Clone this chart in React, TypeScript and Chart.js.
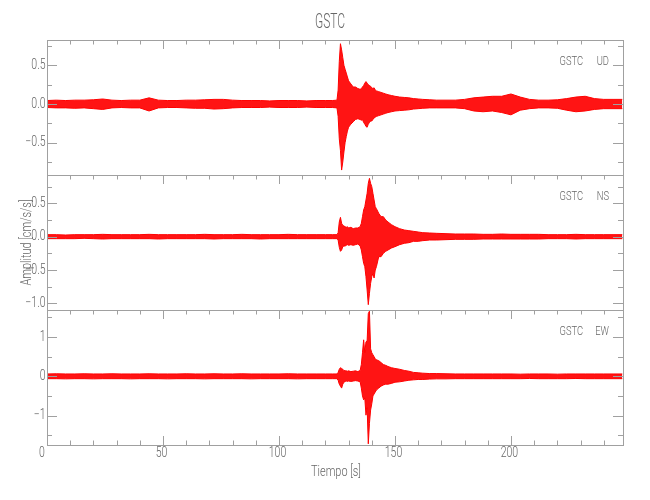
import React, { useEffect, useRef } from "react";
import { Chart, registerables } from "chart.js";

Chart.register(...registerables);

// ---- data (envelope of each trace) ----
const STATION = "GSTC";
const COMPONENTS = ["UD", "NS", "EW"];
const X_TITLE = "Tiempo [s]";
const Y_TITLE = "Amplitud [cm/s/s]";
const X_MAX = 248.3;

const TIME = [
  0, 4, 8, 12, 16, 20, 24, 28, 32, 36, 40, 44, 48, 52, 56, 60, 64, 68, 72, 76, 80, 84, 88, 92, 96, 100, 104, 108, 112, 116, 120,
  123, 125, 125.5, 126, 126.5, 127, 127.5, 128, 128.5, 129, 129.5, 130, 131, 132, 133, 134, 135, 135.5, 136, 136.5,
  137, 137.5, 138, 138.5, 139, 139.5, 140, 140.5, 141, 141.5, 142, 143, 144, 145, 146, 147, 148.5, 150, 152, 154,
  156, 158, 160, 162, 165, 168,
  172, 176, 180, 184, 188, 192, 196, 200, 204, 208, 212, 216, 220, 224, 228, 232, 236, 240, 244, 248,
];

const UD_UPPER = [
  0.045, 0.05, 0.045, 0.05, 0.05, 0.055, 0.065, 0.05, 0.045, 0.05, 0.05, 0.08, 0.05, 0.045, 0.045, 0.05, 0.05, 0.055, 0.06, 0.06, 0.05, 0.045, 0.045, 0.045, 0.04, 0.045, 0.045, 0.045, 0.04, 0.045, 0.045,
  0.045, 0.05, 0.18, 0.55, 0.78, 0.7, 0.6, 0.5, 0.45, 0.4, 0.35, 0.3, 0.26, 0.22, 0.22, 0.2, 0.19, 0.2, 0.22, 0.24,
  0.27, 0.29, 0.27, 0.25, 0.24, 0.23, 0.21, 0.2, 0.21, 0.18, 0.17, 0.16, 0.15, 0.14, 0.13, 0.12, 0.11, 0.1, 0.09, 0.085,
  0.08, 0.07, 0.065, 0.06, 0.055, 0.05,
  0.05, 0.05, 0.06, 0.08, 0.09, 0.1, 0.1, 0.13, 0.09, 0.06, 0.05, 0.05, 0.055, 0.07, 0.09, 0.1, 0.07, 0.06, 0.06, 0.06,
];
const UD_LOWER = [
  -0.045, -0.05, -0.05, -0.055, -0.05, -0.06, -0.07, -0.05, -0.045, -0.05, -0.05, -0.09, -0.05, -0.045, -0.045, -0.05, -0.055, -0.055, -0.065, -0.06, -0.05, -0.045, -0.045, -0.045, -0.04, -0.045, -0.045, -0.045, -0.04, -0.045, -0.045,
  -0.045, -0.05, -0.16, -0.45, -0.6, -0.854, -0.75, -0.62, -0.5, -0.42, -0.35, -0.3, -0.26, -0.23, -0.2, -0.19, -0.2, -0.21, -0.2, -0.24,
  -0.26, -0.29, -0.3, -0.26, -0.24, -0.22, -0.22, -0.2, -0.18, -0.17, -0.16, -0.15, -0.14, -0.13, -0.12, -0.11, -0.1, -0.09, -0.085, -0.08,
  -0.075, -0.065, -0.06, -0.055, -0.05, -0.05,
  -0.05, -0.05, -0.06, -0.09, -0.1, -0.09, -0.11, -0.14, -0.08, -0.06, -0.05, -0.05, -0.055, -0.08, -0.1, -0.09, -0.07, -0.06, -0.06, -0.06,
];

const NS_UPPER = [
  0.03, 0.03, 0.025, 0.03, 0.03, 0.03, 0.035, 0.03, 0.03, 0.03, 0.03, 0.035, 0.03, 0.03, 0.03, 0.03, 0.03, 0.035, 0.03, 0.03, 0.03, 0.035, 0.03, 0.03, 0.03, 0.03, 0.035, 0.03, 0.03, 0.03, 0.03,
  0.03, 0.03, 0.06, 0.22, 0.29, 0.2, 0.17, 0.16, 0.15, 0.14, 0.15, 0.13, 0.14, 0.12, 0.13, 0.13, 0.15, 0.2, 0.3, 0.4,
  0.45, 0.55, 0.65, 0.8, 0.875, 0.8, 0.75, 0.65, 0.55, 0.45, 0.42, 0.35, 0.3, 0.3, 0.25, 0.22, 0.18, 0.15, 0.12, 0.1,
  0.09, 0.08, 0.07, 0.06, 0.055, 0.05,
  0.045, 0.04, 0.04, 0.04, 0.035, 0.035, 0.04, 0.035, 0.035, 0.035, 0.035, 0.03, 0.03, 0.03, 0.035, 0.03, 0.03, 0.03, 0.03, 0.03,
];
const NS_LOWER = [
  -0.03, -0.03, -0.03, -0.03, -0.025, -0.03, -0.035, -0.03, -0.03, -0.03, -0.03, -0.03, -0.035, -0.03, -0.03, -0.03, -0.03, -0.03, -0.035, -0.03, -0.03, -0.03, -0.03, -0.035, -0.03, -0.03, -0.03, -0.03, -0.03, -0.03, -0.03,
  -0.03, -0.03, -0.05, -0.16, -0.22, -0.2, -0.15, -0.14, -0.14, -0.13, -0.12, -0.13, -0.12, -0.13, -0.12, -0.11, -0.14, -0.2, -0.3, -0.4,
  -0.45, -0.6, -0.8, -1.02, -0.85, -0.7, -0.6, -0.55, -0.62, -0.5, -0.45, -0.3, -0.3, -0.25, -0.22, -0.2, -0.17, -0.15, -0.12, -0.1,
  -0.09, -0.07, -0.07, -0.06, -0.05, -0.05,
  -0.045, -0.04, -0.04, -0.04, -0.035, -0.035, -0.035, -0.035, -0.035, -0.035, -0.035, -0.03, -0.03, -0.03, -0.035, -0.03, -0.03, -0.03, -0.03, -0.03,
];

const EW_UPPER = [
  0.06, 0.065, 0.06, 0.06, 0.065, 0.06, 0.06, 0.065, 0.06, 0.06, 0.06, 0.065, 0.06, 0.06, 0.06, 0.065, 0.06, 0.06, 0.065, 0.06, 0.06, 0.065, 0.06, 0.06, 0.06, 0.06, 0.065, 0.06, 0.06, 0.06, 0.06,
  0.06, 0.06, 0.1, 0.18, 0.22, 0.2, 0.18, 0.15, 0.14, 0.14, 0.13, 0.14, 0.12, 0.13, 0.14, 0.12, 0.15, 0.3, 0.6, 0.93,
  0.6, 0.88, 0.9, 1.6, 1.66, 0.7, 0.6, 0.55, 0.5, 0.45, 0.42, 0.4, 0.35, 0.3, 0.28, 0.25, 0.22, 0.2, 0.18, 0.15,
  0.13, 0.1, 0.09, 0.08, 0.07, 0.07,
  0.065, 0.06, 0.06, 0.06, 0.06, 0.06, 0.06, 0.06, 0.055, 0.06, 0.06, 0.06, 0.055, 0.06, 0.06, 0.06, 0.06, 0.06, 0.06, 0.06,
];
const EW_LOWER = [
  -0.06, -0.06, -0.065, -0.06, -0.06, -0.065, -0.06, -0.06, -0.06, -0.065, -0.06, -0.06, -0.06, -0.065, -0.06, -0.06, -0.06, -0.065, -0.06, -0.06, -0.06, -0.06, -0.065, -0.06, -0.06, -0.06, -0.06, -0.065, -0.06, -0.06, -0.06,
  -0.06, -0.06, -0.1, -0.2, -0.25, -0.3, -0.2, -0.15, -0.13, -0.12, -0.13, -0.12, -0.13, -0.12, -0.11, -0.12, -0.14, -0.3, -0.5, -0.6,
  -0.55, -0.99, -0.8, -1.72, -1.2, -0.86, -0.7, -0.5, -0.45, -0.4, -0.35, -0.3, -0.25, -0.22, -0.2, -0.2, -0.18, -0.15, -0.14, -0.12,
  -0.1, -0.09, -0.08, -0.08, -0.07, -0.065,
  -0.065, -0.06, -0.06, -0.06, -0.06, -0.06, -0.06, -0.06, -0.06, -0.055, -0.06, -0.06, -0.06, -0.06, -0.055, -0.06, -0.06, -0.06, -0.06, -0.06,
];

// ---- style / layout ----
const FONT_FAMILY = "Roboto, 'DejaVu Sans', sans-serif";
const TEXT_COLOR = "#666666";
const AXIS_COLOR = "#a0a0a0";
const TRACE_COLOR = "rgb(255,0,0)";
const FILL_COLOR = "rgba(255,0,0,0.92)";
const W = 650;
const H = 500;
const PLOT_LEFT = 47;
const PLOT_RIGHT = 623;

const PANELS = [
  { comp: COMPONENTS[0], upper: UD_UPPER, lower: UD_LOWER, yMin: -0.918, yMax: 0.828, minor: 0.25, major: 0.5, decimals: 1, top: 40, bottom: 175 },
  { comp: COMPONENTS[1], upper: NS_UPPER, lower: NS_LOWER, yMin: -1.1, yMax: 0.925, minor: 0.25, major: 0.5, decimals: 1, top: 175, bottom: 310 },
  { comp: COMPONENTS[2], upper: EW_UPPER, lower: EW_LOWER, yMin: -1.75, yMax: 1.69, minor: 0.5, major: 1, decimals: 0, top: 310, bottom: 445 },
];

const isMultiple = (v: number, step: number) => Math.abs(v / step - Math.round(v / step)) < 1e-6;
const fmt = (v: number, d: number) => {
  const s = Math.abs(v).toFixed(d);
  return v < -1e-9 ? "\u2212" + s : s;
};

function drawText(ctx: any, text: string, x: number, y: number, size: number, align: string, sx: number, rot = 0) {
  ctx.save();
  ctx.translate(x, y);
  if (rot) ctx.rotate(rot);
  ctx.scale(sx, 1);
  ctx.font = `300 ${size}px ${FONT_FAMILY}`;
  ctx.fillStyle = TEXT_COLOR;
  ctx.textAlign = align;
  ctx.textBaseline = "middle";
  ctx.fillText(text, 0, 0);
  ctx.restore();
}

const framePlugin = {
  id: "frame",
  afterDatasetsDraw(chart: any, _args: any, opts: any) {
    const { ctx, chartArea: a, scales } = chart;
    const xs = scales.x;
    const ys = scales.y;
    ctx.save();
    ctx.strokeStyle = AXIS_COLOR;
    ctx.lineWidth = 1;
    ctx.strokeRect(a.left + 0.5, a.top + 0.5, a.right - a.left, a.bottom - a.top);
    ctx.beginPath();
    for (const t of xs.ticks) {
      const px = Math.round(xs.getPixelForValue(t.value)) + 0.5;
      const len = isMultiple(t.value, 50) ? 9 : 4.5;
      ctx.moveTo(px, a.top);
      ctx.lineTo(px, a.top + len);
      if (opts.last) {
        ctx.moveTo(px, a.bottom);
        ctx.lineTo(px, a.bottom - len);
      }
    }
    for (const t of ys.ticks) {
      const py = Math.round(ys.getPixelForValue(t.value)) + 0.5;
      const len = isMultiple(t.value, opts.major) ? 10 : 5;
      ctx.moveTo(a.left, py);
      ctx.lineTo(a.left + len, py);
      ctx.moveTo(a.right, py);
      ctx.lineTo(a.right - len, py);
    }
    ctx.stroke();
    ctx.restore();
  },
  afterDraw(chart: any, _args: any, opts: any) {
    const { ctx, chartArea: a, scales } = chart;
    const xs = scales.x;
    const ys = scales.y;
    for (const t of ys.ticks) {
      if (!isMultiple(t.value, opts.major)) continue;
      drawText(ctx, fmt(t.value, opts.decimals), a.left - 1.5, ys.getPixelForValue(t.value), 14, "right", 0.75);
    }
    drawText(ctx, STATION, a.right - 40, a.top + 21.5, 13, "right", 0.72);
    drawText(ctx, opts.comp, a.right - 14, a.top + 21.5, 13, "right", 0.72);
    if (opts.first) {
      drawText(ctx, STATION, 330, 22.5, 20, "center", 0.6);
    }
    if (opts.mid) {
      drawText(ctx, Y_TITLE, 27, (a.top + a.bottom) / 2, 14, "center", 0.78, -Math.PI / 2);
    }
    if (opts.last) {
      for (const t of xs.ticks) {
        if (!isMultiple(t.value, 50)) continue;
        const off = t.value === 0 ? -5 : -1.5;
        drawText(ctx, String(Math.round(t.value)), xs.getPixelForValue(t.value) + off, a.bottom + 8.5, 14, "center", 0.75);
      }
      drawText(ctx, X_TITLE, (a.left + a.right) / 2 + 1, 472, 14, "center", 0.78);
    }
  },
};

function makeConfig(p: any, i: number): any {
  const last = i === PANELS.length - 1;
  const pts = (arr: number[]) => TIME.map((t, k) => ({ x: t, y: arr[k] }));
  return {
    type: "line",
    data: {
      datasets: [
        { data: pts(p.upper), borderColor: TRACE_COLOR, backgroundColor: FILL_COLOR, borderWidth: 1, pointRadius: 0, fill: "+1", tension: 0 },
        { data: pts(p.lower), borderColor: TRACE_COLOR, backgroundColor: FILL_COLOR, borderWidth: 1, pointRadius: 0, fill: false, tension: 0 },
      ],
    },
    options: {
      responsive: false,
      animation: false,
      events: [],
      layout: { padding: { left: 0, right: W - PLOT_RIGHT, top: p.top, bottom: last ? 0 : H - p.bottom } },
      plugins: {
        legend: { display: false },
        tooltip: { enabled: false },
        title: { display: false },
        frame: { comp: p.comp, major: p.major, decimals: p.decimals, first: i === 0, mid: i === 1, last },
      },
      scales: {
        x: {
          type: "linear",
          min: 0,
          max: X_MAX,
          grid: { display: false, drawTicks: false },
          border: { display: false },
          ticks: { display: false, stepSize: 10, includeBounds: false, autoSkip: false },
          afterFit: (s: any) => {
            s.height = last ? H - p.bottom : 0;
          },
        },
        y: {
          type: "linear",
          min: p.yMin,
          max: p.yMax,
          grid: { display: false, drawTicks: false },
          border: { display: false },
          ticks: { display: false, stepSize: p.minor, includeBounds: false, autoSkip: false },
          afterFit: (s: any) => {
            s.width = PLOT_LEFT;
          },
        },
      },
    },
    plugins: [framePlugin],
  };
}

export default function App() {
  const r0 = useRef<HTMLCanvasElement>(null);
  const r1 = useRef<HTMLCanvasElement>(null);
  const r2 = useRef<HTMLCanvasElement>(null);

  useEffect(() => {
    const refs = [r0, r1, r2];
    const charts = PANELS.map((p, i) => new Chart(refs[i].current as HTMLCanvasElement, makeConfig(p, i)));
    return () => charts.forEach((c) => c.destroy());
  }, []);

  const cs: React.CSSProperties = { position: "absolute", left: 0, top: 0, width: W, height: H };
  return (
    <div style={{ position: "absolute", left: 0, top: 0, width: W, height: H, background: "#ffffff" }}>
      <canvas ref={r0} width={W} height={H} style={cs} />
      <canvas ref={r1} width={W} height={H} style={cs} />
      <canvas ref={r2} width={W} height={H} style={cs} />
    </div>
  );
}
